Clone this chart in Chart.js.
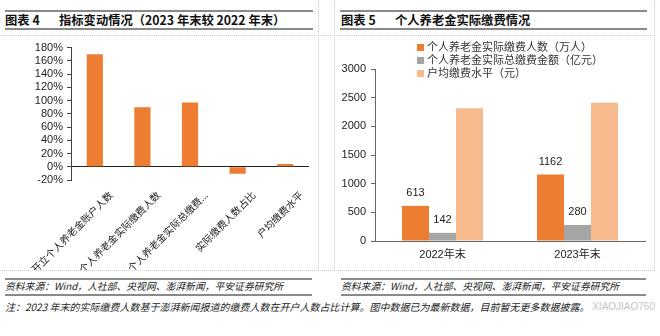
<!DOCTYPE html>
<html lang="zh-CN">
<head>
<meta charset="utf-8">
<script src="https://cdn.jsdelivr.net/npm/chart.js@4.4.0/dist/chart.umd.min.js"></script>
<style>
  body { margin: 0; width: 660px; height: 336px; background: #fff; position: relative; overflow: hidden;
         font-family: "Liberation Sans", "Noto Sans CJK SC", sans-serif; color: #222; }
  .vdot { position: absolute; top: 0; height: 270px; border-left: 1px dotted #cfcfcf; }
  .hdot { position: absolute; left: 0; width: 655px; border-top: 1px dotted #cfcfcf; }
  .rule { position: absolute; height: 2px; background: #8a8a8a; }
  .title { position: absolute; top: 12px; font: bold 12.3px "Noto Sans CJK SC"; line-height: 17px; color: #111; white-space: nowrap; }
  .src { position: absolute; top: 279px; font: italic 9.8px "Noto Sans CJK SC"; line-height: 14px; color: #222; white-space: nowrap; }
  .note { position: absolute; left: 5px; top: 300px; font: italic 10px "Noto Sans CJK SC"; line-height: 14px; color: #222; white-space: nowrap; }
  .mark { position: absolute; right: 5px; top: 301px; font: 10px "Liberation Sans"; color: #c4c4c4; }
  .box { position: absolute; top: 37px; width: 318px; height: 233px; }
  .legend { position: absolute; left: 417px; top: 40px; font: 11px "Noto Sans CJK SC"; color: #333; }
  .legend div { height: 13px; line-height: 13px; white-space: nowrap; }
  .legend i { display: inline-block; width: 7px; height: 7px; margin-right: 3px; vertical-align: 0px; }
</style>
</head>
<body>
<div class="vdot" style="left:318px"></div>
<div class="vdot" style="left:334px"></div>
<div class="vdot" style="left:654px"></div>
<div class="hdot" style="top:35px"></div>
<div class="hdot" style="top:270px"></div>

<div class="rule" style="left:5px; width:308px; top:10px"></div>
<div class="rule" style="left:5px; width:308px; top:28px"></div>
<div class="rule" style="left:340px; width:307px; top:10px"></div>
<div class="rule" style="left:340px; width:307px; top:28px"></div>
<div class="title" style="left:5px">图表 4</div>
<div class="title" style="left:59px">指标变动情况（2023 年末较 2022 年末）</div>
<div class="title" style="left:341px">图表 5</div>
<div class="title" style="left:395px">个人养老金实际缴费情况</div>

<div class="box" style="left:0"><canvas id="changeChart"></canvas></div>
<div class="box" style="left:335px"><canvas id="payChart"></canvas></div>
<div class="legend" id="payLegend"></div>

<div class="rule" style="left:5px; width:307px; top:278px; height:1.5px"></div>
<div class="rule" style="left:5px; width:307px; top:294px; height:1.5px"></div>
<div class="rule" style="left:341px; width:305px; top:278px; height:1.5px"></div>
<div class="rule" style="left:341px; width:305px; top:294px; height:1.5px"></div>
<div class="src" style="left:5px">资料来源：Wind，人社部、央视网、澎湃新闻，平安证券研究所</div>
<div class="src" style="left:341px">资料来源：Wind，人社部、央视网、澎湃新闻，平安证券研究所</div>
<div class="note">注：2023 年末的实际缴费人数基于澎湃新闻报道的缴费人数在开户人数占比计算。图中数据已为最新数据，目前暂无更多数据披露。</div>
<div class="mark">XIAOJIAO760</div>

<script>
// 指标变动（%）
const changeLabels = ['开立个人养老金账户人数', '个人养老金实际缴费人数', '个人养老金实际总缴费...', '实际缴费人数占比', '户均缴费水平'];
const changeValues = [170, 90, 97, -10.5, 4];

// 实际缴费情况
const payYears = ['2022年末', '2023年末'];
const payPersons = [613, 1162];     // 万人
const payAmount = [142, 280];       // 亿元
const payPerCapita = [2316, 2410];  // 元
const paySeries = ['个人养老金实际缴费人数（万人）', '个人养老金实际总缴费金额（亿元）', '户均缴费水平（元）'];
const payColors = ['#ED7D31', '#A5A5A5', '#F7BA8C'];

Chart.defaults.animation = false;
Chart.defaults.font.family = '"Liberation Sans", "Noto Sans CJK SC", sans-serif';
Chart.defaults.font.size = 11;
Chart.defaults.color = '#333';

new Chart(document.getElementById('changeChart'), {
    type: 'bar',
    data: {
        labels: changeLabels,
        datasets: [{
            data: changeValues,
            backgroundColor: '#ED7D31',
            barPercentage: 0.34,
            categoryPercentage: 1
        }]
    },
    options: {
        responsive: true,
        maintainAspectRatio: false,
        layout: { padding: { top: 10, right: 9, left: 0, bottom: 0 } },
        plugins: { legend: { display: false }, tooltip: { enabled: false } },
        scales: {
            x: {
                grid: { display: false },
                border: { display: false },
                ticks: {
                    autoSkip: false,
                    minRotation: 45,
                    maxRotation: 45,
                    padding: 1,
                    labelOffset: 16,
                    color: '#222',
                    font: { size: 10, family: '"Noto Sans CJK SC"' }
                },
                afterFit: scale => { scale.height = 90; }
            },
            y: {
                min: -20,
                max: 180,
                ticks: {
                    stepSize: 20,
                    autoSkip: false,
                    padding: 4,
                    color: '#222',
                    callback: v => v + '%'
                },
                grid: {
                    drawOnChartArea: true,
                    color: ctx => (ctx.tick && ctx.tick.value === 0) ? '#222' : 'transparent',
                    tickColor: '#444',
                    tickLength: 4
                },
                border: { display: true, color: '#444' },
                afterFit: scale => { scale.width = 71; }
            }
        }
    }
});

// 柱顶数值（户均缴费水平不标注）
const valueLabels = {
    id: 'valueLabels',
    afterDatasetsDraw(chart) {
        const ctx = chart.ctx;
        ctx.save();
        ctx.font = '11px "Liberation Sans", sans-serif';
        ctx.fillStyle = '#222';
        ctx.textAlign = 'center';
        ctx.textBaseline = 'bottom';
        [0, 1].forEach(i => {
            chart.getDatasetMeta(i).data.forEach((bar, j) => {
                ctx.fillText(String(chart.data.datasets[i].data[j]), bar.x, bar.y - 7);
            });
        });
        ctx.restore();
    }
};

new Chart(document.getElementById('payChart'), {
    type: 'bar',
    data: {
        labels: payYears,
        datasets: [
            { label: paySeries[0], data: payPersons, backgroundColor: payColors[0] },
            { label: paySeries[1], data: payAmount, backgroundColor: payColors[1] },
            { label: paySeries[2], data: payPerCapita, backgroundColor: payColors[2] }
        ]
    },
    options: {
        responsive: true,
        maintainAspectRatio: false,
        datasets: { bar: { barPercentage: 1, categoryPercentage: 0.6 } },
        layout: { padding: { top: 32, right: 8, left: 0, bottom: 0 } },
        plugins: { legend: { display: false }, tooltip: { enabled: false } },
        scales: {
            x: {
                grid: { display: true, drawOnChartArea: false, drawTicks: false },
                border: { display: true, color: '#666' },
                ticks: { padding: 7, color: '#222' },
                afterFit: scale => { scale.height = 29; }
            },
            y: {
                min: 0,
                max: 3000,
                ticks: { stepSize: 500, autoSkip: false, padding: 5, color: '#222', callback: v => String(v) },
                grid: { drawOnChartArea: false, tickColor: '#666', tickLength: 4 },
                border: { display: true, color: '#666' },
                afterFit: scale => { scale.width = 40; }
            }
        }
    },
    plugins: [valueLabels]
});

// 图例
document.getElementById('payLegend').innerHTML = paySeries
    .map((s, i) => `<div><i style="background:${payColors[i]}"></i>${s}</div>`)
    .join('');
</script>
</body>
</html>
